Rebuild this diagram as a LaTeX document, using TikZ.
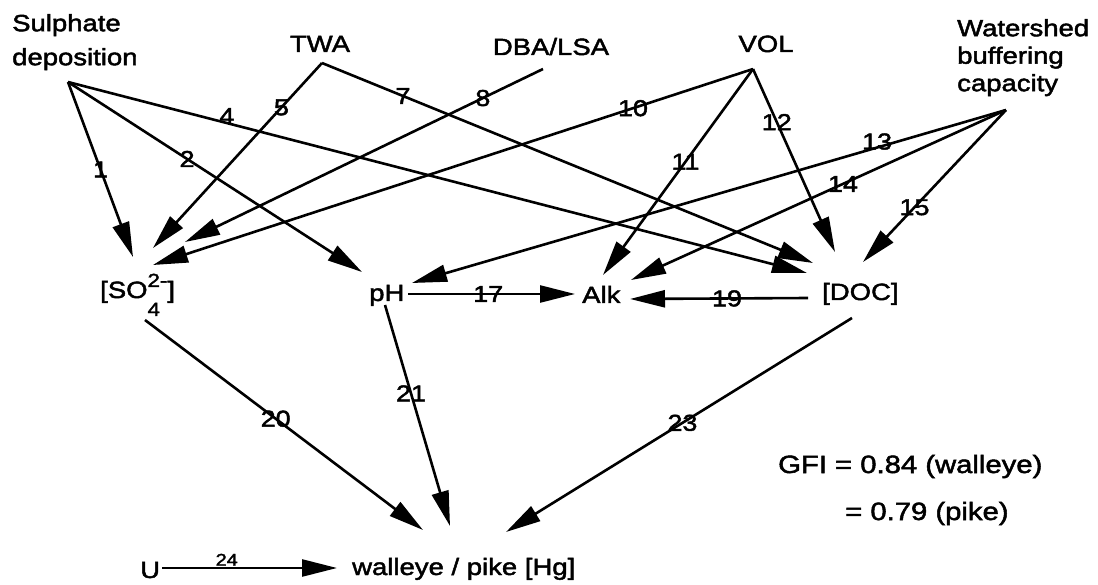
\documentclass[tikz,border=0pt]{standalone}
\usepackage{fontspec}
\setmainfont{Liberation Sans}[FakeStretch=1.17,UprightFeatures={FakeBold=2}]
\usetikzlibrary{arrows.meta}
\begin{document}
\begin{tikzpicture}[x=1pt,y=-1pt,
  txt/.style={inner sep=0pt, font=\fontsize{23.5}{28}\selectfont},
  num/.style={inner sep=0pt, font=\fontsize{23}{26}\selectfont},
  link/.style={line width=2.6pt, -{Triangle[length=35pt,width=17pt]}},
]
\useasboundingbox (0,0) rectangle (1098,585);

% exogenous variables
\node[txt, anchor=north west, align=left, font=\fontsize{23.5}{34}\selectfont] (sd) at (12,14) {Sulphate\\deposition};
\node[txt, anchor=base] (twa) at (320,52) {TWA};
\node[txt, anchor=base] (dba) at (551,55) {DBA/LSA};
\node[txt, anchor=base] (vol) at (766,52) {VOL};
\node[txt, anchor=north west, align=left, font=\fontsize{23.5}{27.5}\selectfont] (wbc) at (957,19) {Watershed\\buffering\\capacity};

% water chemistry
\node[txt, anchor=base west] (so4) at (100,298)
  {[SO\rlap{\raisebox{-18pt}{\fontsize{19}{20}\selectfont 4}}\raisebox{11pt}{\fontsize{19}{20}\selectfont 2-}]};
\node[txt, anchor=base west] (ph) at (369,301) {pH};
\node[txt, anchor=base west] (alk) at (582,303) {Alk};
\node[txt, anchor=base west] (doc) at (822,300) {[DOC]};

% fish mercury
\node[txt, anchor=base west] (u) at (140,578) {U};
\node[txt, anchor=base west] (hg) at (352,575) {walleye / pike [Hg]};

% fit statistics
\node[txt, anchor=base west, font=\fontsize{25}{30}\selectfont] (gfi1) at (778,473) {GFI = 0.84 (walleye)};
\node[txt, anchor=base west, font=\fontsize{25}{30}\selectfont] (gfi2) at (845,520) {= 0.79 (pike)};

% arrow origins
\coordinate (sd-o) at (68,82);
\coordinate (twa-o) at (322,63);
\coordinate (dba-o) at (543,69);
\coordinate (vol-o) at (753,69);
\coordinate (wbc-o) at (1006,110);
\coordinate (so4-o) at (145,320);
\coordinate (ph-o1) at (408,294);
\coordinate (ph-o2) at (385,305);
\coordinate (doc-o1) at (808,298);
\coordinate (doc-o2) at (852,318);
\coordinate (u-o) at (162,568);

% arrow tips
\coordinate (so4-1) at (133,257);
\coordinate (so4-5) at (153,248);
\coordinate (so4-8) at (185,242);
\coordinate (so4-10) at (153,265);
\coordinate (ph-2) at (362,272);
\coordinate (ph-13) at (412,283);
\coordinate (alk-17) at (575,294);
\coordinate (alk-11) at (603,275);
\coordinate (alk-14) at (631,280);
\coordinate (alk-19) at (630,299);
\coordinate (doc-4) at (807,273);
\coordinate (doc-7) at (813,263);
\coordinate (doc-12) at (835,252);
\coordinate (doc-15) at (863,262);
\coordinate (hg-20) at (423,530);
\coordinate (hg-21) at (450,526);
\coordinate (hg-23) at (506,532);
\coordinate (hg-24) at (337,568);

% paths
\draw[link] (sd-o) -- node[num,pos=.50]{1} (so4-1);
\draw[link] (sd-o) -- node[num,pos=.405]{2} (ph-2);
\draw[link] (sd-o) -- node[num,pos=.215,yshift=7pt]{4} (doc-4);
\draw[link] (twa-o) -- node[num,pos=.24]{5} (so4-5);
\draw[link] (twa-o) -- node[num,pos=.165]{7} (doc-7);
\draw[link] (dba-o) -- node[num,pos=.168]{8} (so4-8);
\draw[link] (vol-o) -- node[num,pos=.20]{10} (so4-10);
\draw[link] (vol-o) -- node[num,pos=.45]{11} (alk-11);
\draw[link] (vol-o) -- node[num,pos=.29]{12} (doc-12);
\draw[link] (wbc-o) -- node[num,pos=.217,yshift=6pt]{13} (ph-13);
\draw[link] (wbc-o) -- node[num,pos=.435]{14} (alk-14);
\draw[link] (wbc-o) -- node[num,pos=.64]{15} (doc-15);
\draw[link] (ph-o1) -- node[num,pos=.48]{17} (alk-17);
\draw[link] (doc-o1) -- node[num,pos=.455]{19} (alk-19);
\draw[link] (so4-o) -- node[num,pos=.47]{20} (hg-20);
\draw[link] (ph-o2) -- node[num,pos=.40]{21} (hg-21);
\draw[link] (doc-o2) -- node[num,pos=.49]{23} (hg-23);
\draw[link] (u-o) -- node[num,pos=.37,anchor=south,yshift=1pt,font=\fontsize{17}{20}\selectfont]{24} (hg-24);
\end{tikzpicture}
\end{document}
